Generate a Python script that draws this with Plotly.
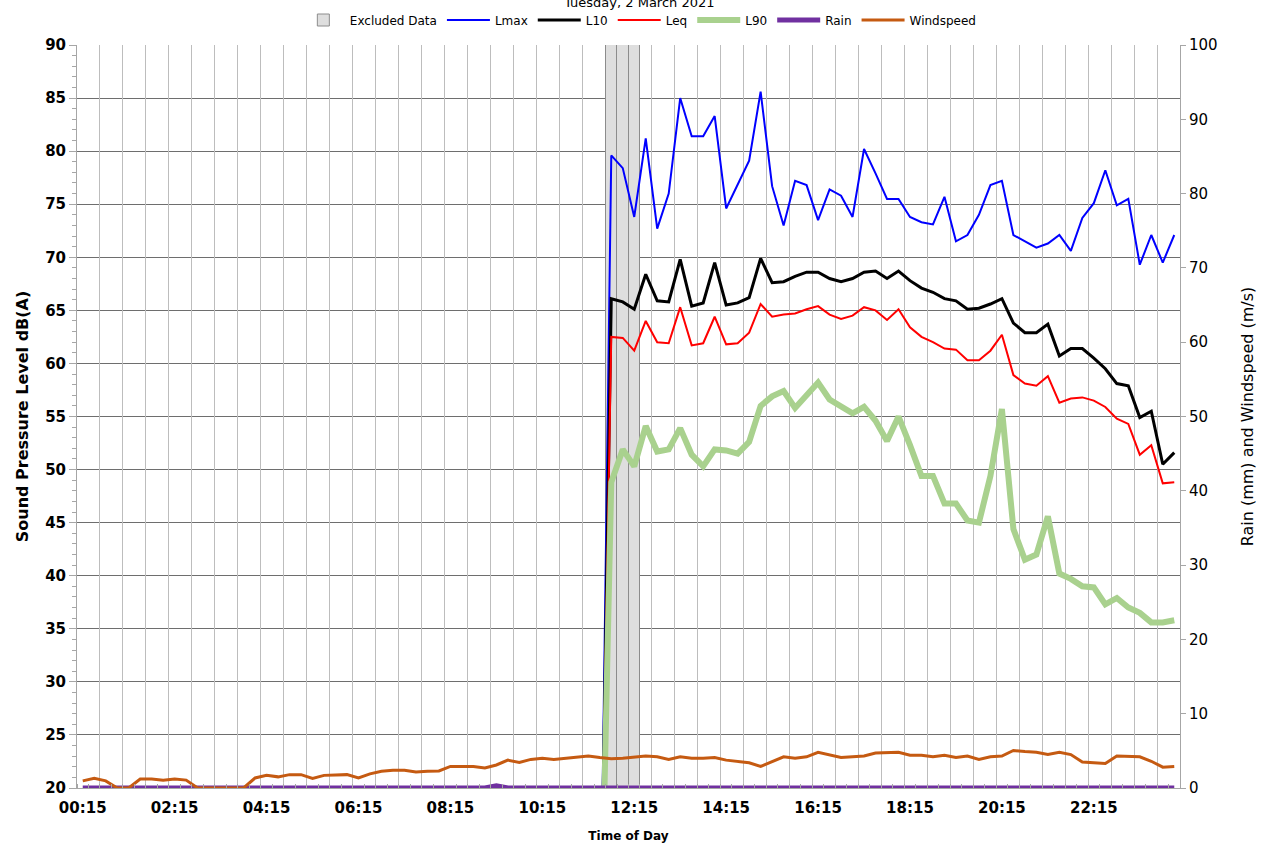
import plotly.graph_objects as go

# ---------------- data ----------------
TIMES = [f"{((k + 1) * 15) // 60:02d}:{((k + 1) * 15) % 60:02d}" for k in range(96)]
TICK_LABELS = ["00:15", "02:15", "04:15", "06:15", "08:15", "10:15",
               "12:15", "14:15", "16:15", "18:15", "20:15", "22:15"]
TITLE = "Tuesday, 2 March 2021"

# excluded periods (11:45, 12:00, 12:15)
EXCLUDED_TIMES = ["11:45", "12:00", "12:15"]
EXCLUDED_LEVEL = 90

# sound levels: no data (plotted as zero) before 11:45
N_BLANK = 46
LMAX = [0] * N_BLANK + [
    79.6, 78.4, 73.8, 81.2, 72.7, 76.0, 85.0, 81.4, 81.4, 83.3,
    74.6, 76.8, 79.1, 85.6, 76.7, 73.0, 77.2, 76.8, 73.5, 76.4,
    75.8, 73.8, 80.2, 77.9, 75.5, 75.5, 73.8, 73.3, 73.1, 75.7,
    71.5, 72.1, 74.0, 76.8, 77.2, 72.1, 71.5, 70.9, 71.3, 72.1,
    70.6, 73.7, 75.1, 78.2, 74.9, 75.5, 69.3, 72.1, 69.5, 72.1]
L10 = [0] * N_BLANK + [
    66.1, 65.8, 65.1, 68.4, 65.9, 65.8, 69.8, 65.4, 65.7, 69.5,
    65.5, 65.7, 66.2, 69.9, 67.6, 67.7, 68.2, 68.6, 68.6, 68.0,
    67.7, 68.0, 68.6, 68.7, 68.0, 68.7, 67.8, 67.1, 66.7, 66.1,
    65.9, 65.1, 65.2, 65.6, 66.1, 63.8, 62.9, 62.9, 63.7, 60.7,
    61.4, 61.4, 60.5, 59.5, 58.1, 57.9, 54.9, 55.5, 50.5, 51.6]
LEQ = [0] * N_BLANK + [
    62.5, 62.4, 61.2, 64.0, 62.0, 61.9, 65.3, 61.7, 61.9, 64.4,
    61.8, 61.9, 62.9, 65.6, 64.4, 64.6, 64.7, 65.1, 65.4, 64.6,
    64.2, 64.5, 65.3, 65.0, 64.1, 65.1, 63.4, 62.5, 62.0, 61.4,
    61.3, 60.3, 60.3, 61.2, 62.7, 58.9, 58.1, 57.9, 58.8, 56.3,
    56.7, 56.8, 56.5, 55.9, 54.8, 54.3, 51.4, 52.3, 48.7, 48.8]
L90 = [0] * N_BLANK + [
    48.8, 51.9, 50.3, 54.1, 51.7, 51.9, 53.9, 51.4, 50.3, 51.9,
    51.8, 51.5, 52.6, 56.0, 56.9, 57.4, 55.8, 57.1, 58.2, 56.6,
    56.0, 55.3, 55.9, 54.6, 52.7, 55.0, 52.3, 49.4, 49.4, 46.8,
    46.8, 45.2, 45.0, 49.4, 55.7, 44.4, 41.5, 42.0, 45.6, 40.2,
    39.7, 39.0, 38.9, 37.3, 37.9, 37.0, 36.5, 35.6, 35.6, 35.8]

RAIN = [0] * 36 + [0.3] + [0] * 59

WINDSPEED = [
    0.96, 1.3, 0.96, 0.0, 0.0, 1.2, 1.2, 1.06, 1.2, 1.06,
    0.0, 0.0, 0.0, 0.0, 0.0, 1.35, 1.7, 1.5, 1.8, 1.8,
    1.3, 1.7, 1.8, 1.8, 1.35, 1.9, 2.25, 2.4, 2.4, 2.15,
    2.25, 2.3, 2.9, 2.85, 2.9, 2.7, 3.1, 3.75, 3.45, 3.85,
    4.0, 3.85, 4.0, 4.2, 4.3, 4.1, 3.95, 4.0, 4.2, 4.3,
    4.2, 3.85, 4.2, 4.0, 4.0, 4.1, 3.75, 3.55, 3.4, 2.9,
    3.6, 4.2, 4.0, 4.2, 4.8, 4.5, 4.1, 4.2, 4.3, 4.7,
    4.7, 4.8, 4.4, 4.4, 4.2, 4.4, 4.1, 4.3, 3.85, 4.2,
    4.3, 5.05, 4.9, 4.8, 4.5, 4.8, 4.5, 3.5, 3.4, 3.3,
    4.3, 4.3, 4.2, 3.6, 2.8, 2.9]

# ---------------- positions on the category scale ----------------
POS = list(range(len(TIMES)))
pos_of = {t: i for i, t in enumerate(TIMES)}
excl_x = [pos_of[t] for t in EXCLUDED_TIMES]
excl_y = [EXCLUDED_LEVEL] * len(EXCLUDED_TIMES)
tick_pos = [pos_of[t] for t in TICK_LABELS]
grid_pos = [i + 0.5 for i in range(1, len(TIMES) - 1, 2)]

FONT = "DejaVu Sans"

fig = go.Figure()
fig.add_trace(go.Bar(x=excl_x, y=excl_y, base=0, width=1, name="Excluded Data",
                     marker=dict(color="#DEDEDE", line=dict(color="#8C8C8C", width=1)),
                     xaxis="x", yaxis="y"))
fig.add_trace(go.Scatter(x=POS, y=LMAX, mode="lines", name="Lmax",
                         line=dict(color="#0000FF", width=2), xaxis="x", yaxis="y"))
fig.add_trace(go.Scatter(x=POS, y=L10, mode="lines", name="L10",
                         line=dict(color="#000000", width=3), xaxis="x", yaxis="y"))
fig.add_trace(go.Scatter(x=POS, y=LEQ, mode="lines", name="Leq",
                         line=dict(color="#FF0000", width=2), xaxis="x", yaxis="y"))
fig.add_trace(go.Scatter(x=POS, y=L90, mode="lines", name="L90",
                         line=dict(color="#A9D18E", width=6), xaxis="x", yaxis="y"))
fig.add_trace(go.Scatter(x=POS, y=RAIN, mode="lines", name="Rain",
                         line=dict(color="#7030A0", width=5), xaxis="x2", yaxis="y2"))
fig.add_trace(go.Scatter(x=POS, y=WINDSPEED, mode="lines", name="Windspeed",
                         line=dict(color="#C55A11", width=3), xaxis="x2", yaxis="y2"))

XR = [-0.5, len(TIMES) - 0.5]

fig.update_layout(
    width=1266, height=848,
    paper_bgcolor="white", plot_bgcolor="white",
    margin=dict(l=77, r=86, t=45, b=60, autoexpand=False),
    font=dict(family=FONT, color="#000000"),
    bargap=0,
    title=dict(text=TITLE, x=0.505, xanchor="center", xref="container",
               y=0.997, yref="container", yanchor="middle",
               font=dict(size=13, family=FONT)),
    showlegend=True,
    legend=dict(orientation="h", x=0.505, xanchor="center", xref="container",
                y=1 - 20 / 848, yref="container", yanchor="middle",
                font=dict(size=12, family=FONT), bgcolor="rgba(0,0,0,0)",
                itemwidth=43, tracegroupgap=0),
    xaxis=dict(
        range=XR, tickmode="array", tickvals=tick_pos, ticktext=TICK_LABELS,
        ticks="", showgrid=False, zeroline=False,
        tickfont=dict(size=15, family=FONT, weight="bold"),
        ticklabelstandoff=6,
        showline=True, linecolor="#A6A6A6", linewidth=1,
        minor=dict(tick0=-0.5, dtick=1, ticks="inside", ticklen=4,
                   tickcolor="#A6A6A6", tickwidth=1, showgrid=False),
        title=dict(text="Time of Day", font=dict(size=12, family=FONT, weight="bold"),
                   standoff=15),
    ),
    xaxis2=dict(
        range=XR, overlaying="x", anchor="y2", side="bottom",
        tickmode="array", tickvals=grid_pos, showticklabels=False, ticks="",
        showgrid=True, gridcolor="#BDBDBD", gridwidth=1.3, zeroline=False,
        showline=False,
    ),
    yaxis=dict(
        range=[20, 90], tick0=20, dtick=5, showgrid=True, gridcolor="#6E6E6E",
        gridwidth=1, zeroline=False, ticks="outside", ticklen=7,
        tickcolor="#A6A6A6",
        tickfont=dict(size=15, family=FONT, weight="bold"),
        showline=True, linecolor="#A6A6A6", linewidth=1,
        minor=dict(dtick=1, ticks="outside", ticklen=4, tickcolor="#A6A6A6",
                   showgrid=False),
        title=dict(text="Sound Pressure Level dB(A)",
                   font=dict(size=16, family=FONT, weight="bold"), standoff=12),
    ),
    yaxis2=dict(
        range=[0, 100], tick0=0, dtick=10, overlaying="y", side="right",
        anchor="x2", showgrid=False, zeroline=False, ticks="outside", ticklen=5,
        tickcolor="#A6A6A6", tickfont=dict(size=15, family=FONT),
        showline=True, linecolor="#A6A6A6", linewidth=1,
        title=dict(text="Rain (mm) and Windspeed (m/s)",
                   font=dict(size=16, family=FONT), standoff=25),
    ),
)

fig.write_html("out.html", config={"displayModeBar": False},
               post_script="document.body.style.margin='0';")
